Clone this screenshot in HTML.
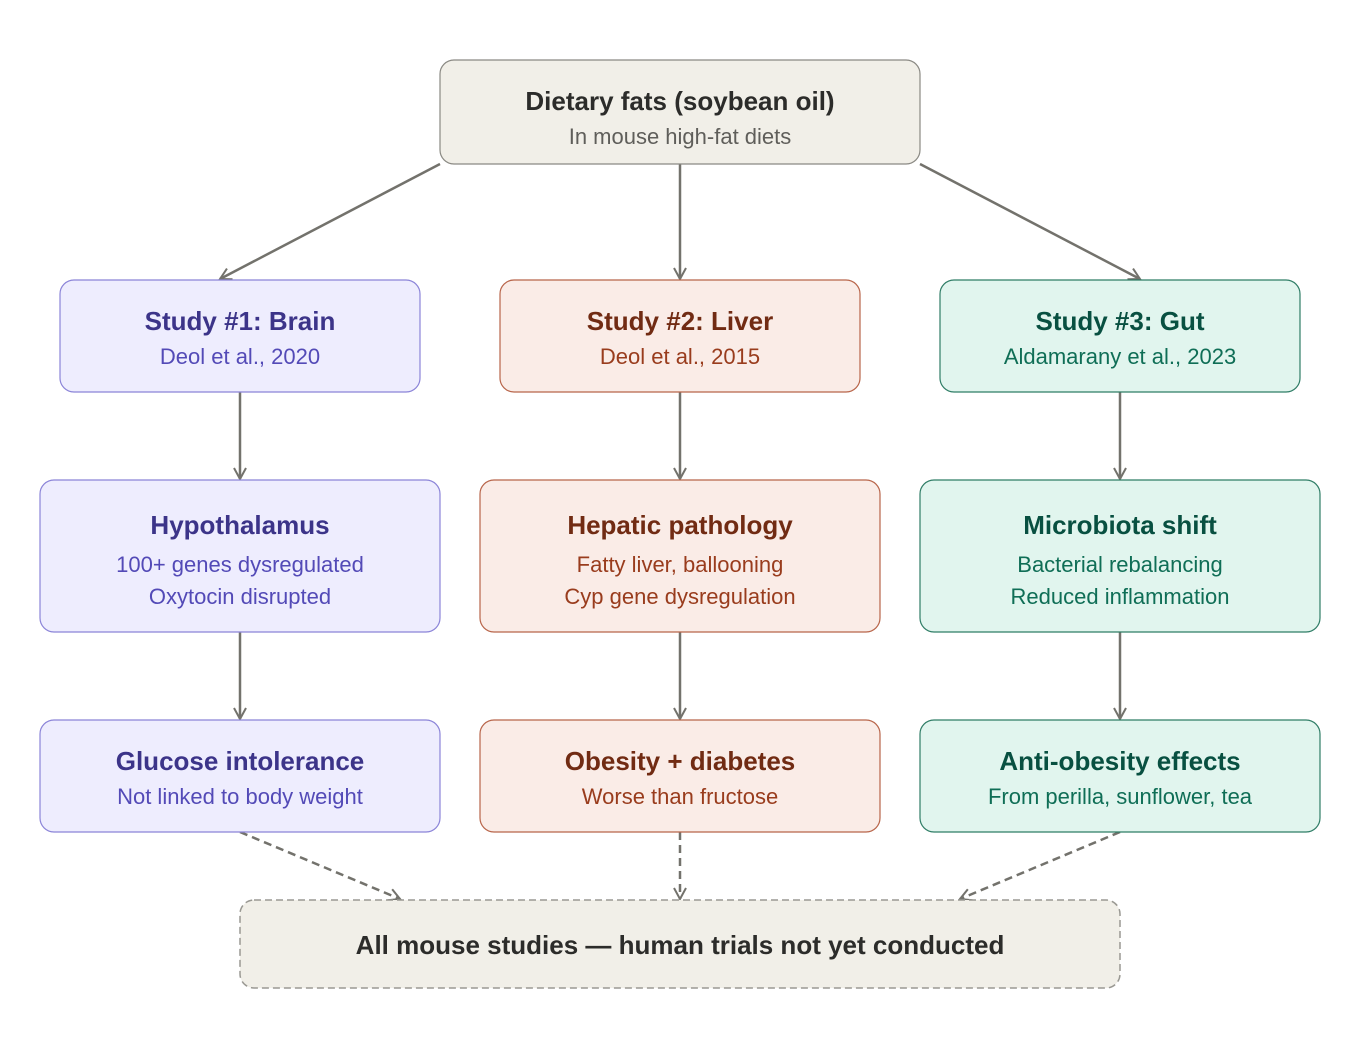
<!DOCTYPE html>
<html><head><meta charset="utf-8"><style>body{margin:0;background:#fff}svg{display:block}</style></head><body>
<svg width="1360" height="1040" viewBox="0 0 1360 1040" xmlns="http://www.w3.org/2000/svg" font-family="Liberation Sans, sans-serif" text-anchor="middle">
<defs><marker id="a" viewBox="0 0 10 10" refX="8" refY="5" markerWidth="10" markerHeight="10" markerUnits="userSpaceOnUse" orient="auto"><path d="M1 1L8 5L1 9" fill="none" stroke="#73726c" stroke-width="2"/></marker>
<marker id="b" viewBox="0 0 16 16" refX="13" refY="8" markerWidth="16" markerHeight="16" markerUnits="userSpaceOnUse" orient="auto"><path d="M2 2L13 8L2 14" fill="none" stroke="#73726c" stroke-width="2"/></marker></defs>
<g stroke="#73726c" stroke-width="2.5" fill="none">
<line x1="440" y1="164" x2="220" y2="279" marker-end="url(#b)"/>
<line x1="680" y1="164" x2="680" y2="279" marker-end="url(#b)"/>
<line x1="920" y1="164" x2="1140" y2="279" marker-end="url(#b)"/>
<line x1="240" y1="392" x2="240" y2="479" marker-end="url(#b)"/>
<line x1="680" y1="392" x2="680" y2="479" marker-end="url(#b)"/>
<line x1="1120" y1="392" x2="1120" y2="479" marker-end="url(#b)"/>
<line x1="240" y1="632" x2="240" y2="719" marker-end="url(#b)"/>
<line x1="680" y1="632" x2="680" y2="719" marker-end="url(#b)"/>
<line x1="1120" y1="632" x2="1120" y2="719" marker-end="url(#b)"/>
<g stroke-dasharray="8 5"><line x1="240" y1="832" x2="400" y2="899" marker-end="url(#b)"/>
<line x1="680" y1="832" x2="680" y2="899" marker-end="url(#b)"/>
<line x1="1120" y1="832" x2="960" y2="899" marker-end="url(#b)"/></g>
</g>
<rect x="440" y="60" width="480" height="104" rx="14" fill="#F1EFE8" stroke="#8a8983" stroke-width="1.2"/>
<text x="680" y="110" font-size="26" font-weight="bold" fill="#2C2C2A">Dietary fats (soybean oil)</text>
<text x="680" y="144" font-size="22" fill="#5F5E5A">In mouse high-fat diets</text>

<rect x="60" y="280" width="360" height="112" rx="14" fill="#EEEDFE" stroke="#8b84d8" stroke-width="1.2"/>
<text x="240" y="330" font-size="26" font-weight="bold" fill="#3C3489">Study #1: Brain</text>
<text x="240" y="364" font-size="22" fill="#534AB7">Deol et al., 2020</text>
<rect x="500" y="280" width="360" height="112" rx="14" fill="#FAECE7" stroke="#b8654a" stroke-width="1.2"/>
<text x="680" y="330" font-size="26" font-weight="bold" fill="#712B13">Study #2: Liver</text>
<text x="680" y="364" font-size="22" fill="#993C1D">Deol et al., 2015</text>
<rect x="940" y="280" width="360" height="112" rx="14" fill="#E1F5EE" stroke="#2f7d66" stroke-width="1.2"/>
<text x="1120" y="330" font-size="26" font-weight="bold" fill="#085041">Study #3: Gut</text>
<text x="1120" y="364" font-size="22" fill="#0F6E56">Aldamarany et al., 2023</text>

<rect x="40" y="480" width="400" height="152" rx="14" fill="#EEEDFE" stroke="#8b84d8" stroke-width="1.2"/>
<text x="240" y="534" font-size="26" font-weight="bold" fill="#3C3489">Hypothalamus</text>
<text x="240" y="572" font-size="22" fill="#534AB7">100+ genes dysregulated</text>
<text x="240" y="604" font-size="22" fill="#534AB7">Oxytocin disrupted</text>
<rect x="480" y="480" width="400" height="152" rx="14" fill="#FAECE7" stroke="#b8654a" stroke-width="1.2"/>
<text x="680" y="534" font-size="26" font-weight="bold" fill="#712B13">Hepatic pathology</text>
<text x="680" y="572" font-size="22" fill="#993C1D">Fatty liver, ballooning</text>
<text x="680" y="604" font-size="22" fill="#993C1D">Cyp gene dysregulation</text>
<rect x="920" y="480" width="400" height="152" rx="14" fill="#E1F5EE" stroke="#2f7d66" stroke-width="1.2"/>
<text x="1120" y="534" font-size="26" font-weight="bold" fill="#085041">Microbiota shift</text>
<text x="1120" y="572" font-size="22" fill="#0F6E56">Bacterial rebalancing</text>
<text x="1120" y="604" font-size="22" fill="#0F6E56">Reduced inflammation</text>

<rect x="40" y="720" width="400" height="112" rx="14" fill="#EEEDFE" stroke="#8b84d8" stroke-width="1.2"/>
<text x="240" y="770" font-size="26" font-weight="bold" fill="#3C3489">Glucose intolerance</text>
<text x="240" y="804" font-size="22" fill="#534AB7">Not linked to body weight</text>
<rect x="480" y="720" width="400" height="112" rx="14" fill="#FAECE7" stroke="#b8654a" stroke-width="1.2"/>
<text x="680" y="770" font-size="26" font-weight="bold" fill="#712B13">Obesity + diabetes</text>
<text x="680" y="804" font-size="22" fill="#993C1D">Worse than fructose</text>
<rect x="920" y="720" width="400" height="112" rx="14" fill="#E1F5EE" stroke="#2f7d66" stroke-width="1.2"/>
<text x="1120" y="770" font-size="26" font-weight="bold" fill="#085041">Anti-obesity effects</text>
<text x="1120" y="804" font-size="22" fill="#0F6E56">From perilla, sunflower, tea</text>

<rect x="240" y="900" width="880" height="88" rx="14" fill="#F1EFE8" stroke="#9a9993" stroke-width="1.5" stroke-dasharray="7 4"/>
<text x="680" y="954" font-size="26" font-weight="bold" fill="#2C2C2A">All mouse studies — human trials not yet conducted</text>
</svg>
</body></html>
